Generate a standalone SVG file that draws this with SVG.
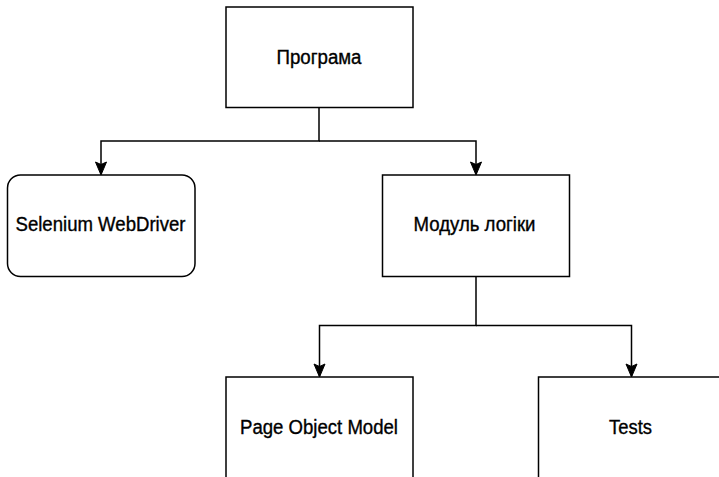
<svg xmlns="http://www.w3.org/2000/svg" width="719" height="477" viewBox="0 0 719 477">
<style>
.box{fill:#fff;stroke:#000;stroke-width:1.5}
.lbl{font-family:"Liberation Sans",Arial,Helvetica,sans-serif;font-size:19.5px;fill:#000;stroke:#000;stroke-width:0.35;text-anchor:middle}
.edge{fill:none;stroke:#000;stroke-width:1.5}
.head{fill:#000;stroke:#000;stroke-width:1}
</style>
<rect width="719" height="477" fill="#fff"/>
<g id="connectors">
<path class="edge" d="M319,107.5 V141 H101 V174"/>
<path class="edge" d="M319,141 H476 V174"/>
<path class="edge" d="M476,276.5 V325.5 H319.5 V376"/>
<path class="edge" d="M476,325.5 H631.5 V376"/>
<path class="head" d="M101,175 L95.5,162 L101,164.5 L106.5,162 Z"/>
<path class="head" d="M476,175 L470.5,162 L476,164.5 L481.5,162 Z"/>
<path class="head" d="M319.5,377 L314,364 L319.5,366.5 L325,364 Z"/>
<path class="head" d="M631.5,377 L626,364 L631.5,366.5 L637,364 Z"/>
</g>
<g id="programa">
<rect class="box" x="226" y="7" width="187" height="100.5"/>
<text class="lbl" x="319" y="63.5" textLength="85" lengthAdjust="spacingAndGlyphs">Програма</text>
</g>
<g id="selenium">
<rect class="box" x="7.5" y="175" width="187.5" height="101.5" rx="13" ry="13"/>
<text class="lbl" x="100.5" y="231" textLength="170" lengthAdjust="spacingAndGlyphs">Selenium WebDriver</text>
</g>
<g id="modul">
<rect class="box" x="382.5" y="175" width="187" height="101.5"/>
<text class="lbl" x="474.5" y="231" textLength="122" lengthAdjust="spacingAndGlyphs">Модуль логіки</text>
</g>
<g id="pom">
<rect class="box" x="226" y="377" width="187" height="101"/>
<text class="lbl" x="319" y="434" textLength="158" lengthAdjust="spacingAndGlyphs">Page Object Model</text>
</g>
<g id="tests">
<rect class="box" x="538.5" y="377" width="187" height="101"/>
<text class="lbl" x="630.5" y="434" textLength="43" lengthAdjust="spacingAndGlyphs">Tests</text>
</g>
</svg>
